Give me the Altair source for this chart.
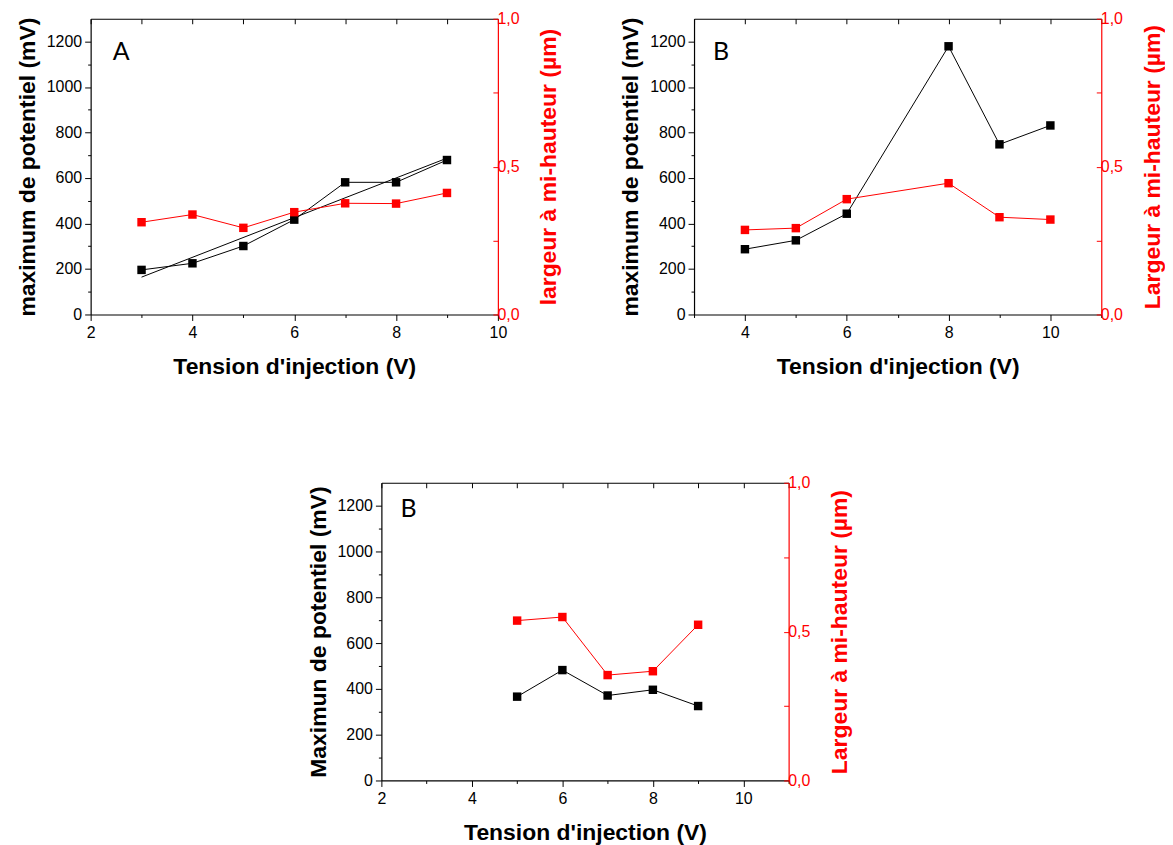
import altair as alt
import pandas as pd

# ---------------- data ----------------
# Panel A (top left)
a_tension = [3, 4, 5, 6, 7, 8, 9]
a_max_pot = [196, 225, 301, 417, 581, 581, 679]
a_largeur = [0.312, 0.338, 0.293, 0.346, 0.376, 0.375, 0.411]

# Panel B (top right)
b_tension = [4, 5, 6, 8, 9, 10]
b_max_pot = [287, 326, 443, 1179, 748, 831]
b_largeur = [0.286, 0.292, 0.390, 0.444, 0.329, 0.321]

# Panel B (bottom)
c_tension = [5, 6, 7, 8, 9]
c_max_pot = [366, 482, 371, 396, 325]
c_largeur = [0.537, 0.549, 0.354, 0.367, 0.523]

x_title = "Tension d'injection (V)"
left_titles = ["maximum de potentiel (mV)", "maximum de potentiel (mV)", "Maximun de potentiel (mV)"]
right_titles = ["largeur à mi-hauteur (µm)", "Largeur à mi-hauteur (µm)", "Largeur à mi-hauteur (µm)"]
letters = ["A", "B", "B"]

# ---------------- style ----------------
FONT = "Liberation Sans"
RED = "#ff0000"
W, H = 409, 297
MARK = 72


def panel(xs, ymax, ywid, xdom, xlabel_start, left_title, right_title, letter, letter_xy,
          fit=False, height=H):
    df = pd.DataFrame({"x": xs, "max": ymax, "w": ywid})
    xscale = alt.Scale(domain=xdom, nice=False, zero=False)
    xticks = list(range(xdom[0], xdom[1] + 1))
    x_major = f"(datum.value - {xlabel_start}) % 2 == 0"
    x_axis = alt.Axis(
        values=xticks, title=x_title, labelFlush=False,
        labelExpr=f"{x_major} ? format(datum.value, 'd') : ''",
        tickSize={"condition": {"test": f"!({x_major})", "value": 3}, "value": 6},
        labelPadding=4, titlePadding=15,
        labelFont=FONT, titleFont=FONT,
    )
    x_top = alt.X(
        "x:Q", scale=xscale,
        axis=alt.Axis(orient="top", values=xticks, labels=False, title=None,
                      tickSize={"expr": "-5"}),
    )
    yscale = alt.Scale(domain=[0, 1300], nice=False, zero=True)
    y_axis = alt.Axis(
        values=list(range(0, 1201, 100)), title=left_title,
        labelExpr="datum.value % 200 == 0 ? format(datum.value, 'd') : ''",
        tickSize={"condition": {"test": "datum.value % 200 != 0", "value": 3}, "value": 6},
        labelPadding=3, titlePadding=7,
        labelFont=FONT, titleFont=FONT,
    )
    y_right = alt.Y(
        "w:Q", scale=alt.Scale(domain=[0, 1], nice=False, zero=True),
        axis=alt.Axis(
            orient="right", values=[0, 0.25, 0.5, 0.75, 1.0], title=right_title,
            labelExpr="(datum.value * 4) % 2 == 0 ? replace(format(datum.value, '.1f'), '.', ',') : ''",
            tickSize={"expr": "-5"}, labelPadding=4, titlePadding=19,
            domainColor=RED, tickColor=RED, labelColor=RED, titleColor=RED,
            titleAngle=270, titleBaseline="top", titleAlign="center",
            labelFont=FONT, titleFont=FONT,
        ),
    )

    black = alt.Chart(df).mark_line(
        color="black", strokeWidth=1,
        point=alt.OverlayMarkDef(shape="square", size=MARK, filled=True, color="black", opacity=1),
    ).encode(
        x=alt.X("x:Q", scale=xscale, axis=x_axis),
        y=alt.Y("max:Q", scale=yscale, axis=y_axis),
    )

    left_layers = [black]
    if fit:
        reg = alt.Chart(df).transform_regression("x", "max", method="linear").mark_line(
            color="black", strokeWidth=1
        ).encode(
            x=alt.X("x:Q", scale=xscale, axis=x_axis),
            y=alt.Y("max:Q", scale=yscale, axis=y_axis),
        )
        left_layers.append(reg)

    lab_df = pd.DataFrame({"x": [letter_xy[0]], "max": [letter_xy[1]], "t": [letter]})
    lab = alt.Chart(lab_df).mark_text(font="Lato", fontSize=25, color="black").encode(
        x=alt.X("x:Q", scale=xscale, axis=x_axis),
        y=alt.Y("max:Q", scale=yscale, axis=y_axis),
        text="t:N",
    )
    left_layers.append(lab)
    left = alt.layer(*left_layers)

    red = alt.Chart(df).mark_line(
        color=RED, strokeWidth=1,
        point=alt.OverlayMarkDef(shape="square", size=MARK, filled=True, color=RED, opacity=1),
    ).encode(x=x_top, y=y_right)

    return (
        alt.layer(left, red)
        .resolve_scale(y="independent")
        .resolve_axis(x="independent", y="independent")
        .properties(width=W, height=height)
    )


pA = panel(a_tension, a_max_pot, a_largeur, [2, 10], 2, left_titles[0], right_titles[0],
           letters[0], (2.6, 1154), fit=True)
pB = panel(b_tension, b_max_pot, b_largeur, [3, 11], 4, left_titles[1], right_titles[1],
           letters[1], (3.53, 1154))
pC = panel(c_tension, c_max_pot, c_largeur, [2, 11], 2, left_titles[2], right_titles[2],
           letters[2], (2.6, 1186), height=299)

spacer = alt.Chart(pd.DataFrame({"s": [0]})).mark_point(opacity=0).encode(
    x=alt.X("s:Q", axis=None), y=alt.Y("s:Q", axis=None)
).properties(width=205, height=10)

top = alt.hconcat(pA, pB, spacing=58)
bottom = alt.hconcat(spacer, pC, spacing=12)

chart = (
    alt.vconcat(top, bottom, spacing=97)
    .properties(padding={"left": 8, "top": 1, "right": 0, "bottom": 0})
    .configure_view(stroke=None)
    .configure_axis(
        grid=False, labelFont=FONT, labelFontSize=16, labelColor="black",
        titleFont=FONT, titleFontSize=23, titleFontWeight="bold", titleColor="black",
        domainColor="black", domainWidth=1.2, tickColor="black", tickWidth=1,
    )
)

chart.save("out.html", embed_options={"renderer": "svg", "actions": False})
